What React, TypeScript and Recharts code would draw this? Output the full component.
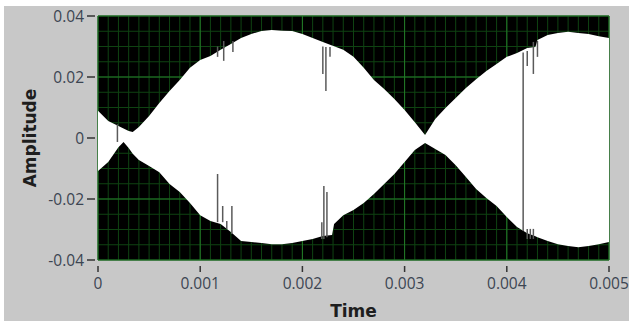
import { ComposedChart, Area, XAxis, YAxis, CartesianGrid, ReferenceLine } from "recharts"

// envelope of the sampled waveform (seconds / amplitude)
const time = [
  0, 0.0001, 0.0002, 0.00025, 0.0003, 0.00034, 0.0004, 0.0005, 0.0006, 0.0007,
  0.0008, 0.0009, 0.001, 0.0011, 0.0012, 0.0013, 0.0014, 0.0015, 0.0016, 0.0017,
  0.0018, 0.0019, 0.002, 0.0021, 0.0022, 0.00229, 0.00231, 0.0024, 0.0025, 0.0026,
  0.0027, 0.0028, 0.0029, 0.003, 0.0031, 0.0032, 0.0033, 0.0034, 0.0035, 0.0036,
  0.0037, 0.0038, 0.0039, 0.004, 0.0041, 0.0042, 0.00428, 0.0043, 0.0044, 0.0045,
  0.0046, 0.0047, 0.0048, 0.0049, 0.005,
]
const upper = [
  0.0089, 0.0056, 0.0039, 0.0031, 0.0023, 0.002, 0.0036, 0.0072, 0.0115, 0.0154,
  0.019, 0.023, 0.0256, 0.0269, 0.0289, 0.0308, 0.0328, 0.0341, 0.0351, 0.0354,
  0.0352, 0.0351, 0.0341, 0.0328, 0.0315, 0.0303, 0.0301, 0.0289, 0.0266, 0.023,
  0.019, 0.0161, 0.0128, 0.0092, 0.0052, 0.001, 0.0062, 0.0098, 0.0131, 0.0164,
  0.0193, 0.022, 0.0243, 0.0266, 0.0279, 0.0295, 0.0298, 0.0321, 0.0338, 0.0344,
  0.0348, 0.0344, 0.0341, 0.0334, 0.0328,
]
const lower = [
  -0.0108, -0.0079, -0.003, -0.0013, -0.0033, -0.0052, -0.0072, -0.0092, -0.0112, -0.0151,
  -0.0177, -0.0213, -0.0253, -0.0272, -0.0282, -0.0308, -0.0338, -0.0341, -0.0344, -0.0348,
  -0.0348, -0.0344, -0.0338, -0.0331, -0.0321, -0.0318, -0.0282, -0.0253, -0.0236, -0.0213,
  -0.0184, -0.0151, -0.0118, -0.0079, -0.0039, -0.0016, -0.0036, -0.0056, -0.0089, -0.0128,
  -0.0167, -0.0197, -0.0223, -0.0259, -0.0292, -0.0312, -0.0322, -0.0325, -0.0338, -0.0348,
  -0.0354, -0.0358, -0.0354, -0.0348, -0.0341,
]

// dropouts inside the envelope
const spikeTime = [
  0.00019, 0.00117, 0.00123, 0.00132, 0.0022, 0.00223, 0.00227, 0.00416, 0.0042, 0.00426,
  0.0043, 0.00117, 0.00122, 0.00126, 0.00131, 0.00219, 0.00221, 0.00224, 0.0042, 0.00423,
  0.00426,
]
const spikeHigh = [
  0.0045, 0.03, 0.0318, 0.0318, 0.03, 0.0298, 0.0298, 0.028, 0.0285, 0.0315,
  0.0318, -0.0118, -0.0223, -0.0272, -0.0223, -0.0276, -0.0157, -0.0177, -0.0298, -0.0298,
  -0.0298,
]
const spikeLow = [
  -0.0013, 0.0266, 0.0253, 0.0282, 0.021, 0.0154, 0.0266, -0.0305, 0.0236, 0.021,
  0.0266, -0.0276, -0.0276, -0.0298, -0.0315, -0.0331, -0.0331, -0.0325, -0.0331, -0.0331,
  -0.0331,
]

const xTicks = [0, 0.001, 0.002, 0.003, 0.004, 0.005]
const yTicks = [-0.04, -0.02, 0, 0.02, 0.04]

const X_DIVISIONS = 10
const Y_DIVISIONS = 4

function subdivide(ticks: number[], parts: number) {
  const out: number[] = []
  for (let i = 0; i < ticks.length - 1; i++) {
    const step = (ticks[i + 1] - ticks[i]) / parts
    for (let j = 0; j < parts; j++) out.push(ticks[i] + step * j)
  }
  out.push(ticks[ticks.length - 1])
  return out
}

const data = time.map((t, i) => ({ t, band: [lower[i], upper[i]] }))

const labelFont = { fontFamily: "'Open Sans', sans-serif", fontSize: 15.5, fill: "#3c4552" }
const titleFont = { fontFamily: "'DejaVu Sans', sans-serif", fontSize: 17, fontWeight: 700, fill: "#1e1e1e" }

const fmt = (v: number, digits: number) => (v === 0 ? "0" : v.toFixed(digits))

function XTick(props: any) {
  const { x, y, payload } = props
  return (
    <g>
      <line x1={x} x2={x} y1={y + 6} y2={y + 12} stroke="#333" strokeWidth={1.5} />
      <text x={x} y={y + 29} textAnchor="middle" {...labelFont}>
        {fmt(payload.value, 3)}
      </text>
    </g>
  )
}

function YTick(props: any) {
  const { x, y, payload } = props
  return (
    <g>
      <line x1={x - 11} x2={x - 3} y1={y} y2={y} stroke="#333" strokeWidth={1.5} />
      <text x={x - 14} y={y + 5.5} textAnchor="end" {...labelFont}>
        {fmt(payload.value, 2)}
      </text>
    </g>
  )
}

export default function App() {
  return (
    <div style={{ position: "absolute", left: 0, top: 0, width: 629, height: 321, background: "#fff" }}>
      <div style={{ position: "absolute", left: 4, top: 6, right: 0, bottom: 0, background: "#c8c8c8" }} />
      <div style={{ position: "absolute", left: 0, top: 0 }}>
        <ComposedChart width={629} height={321} data={data} margin={{ top: 16, right: 20, bottom: 31, left: 38 }}>
          <CartesianGrid
            fill="#000"
            fillOpacity={1}
            stroke="#0f4312"
            verticalValues={subdivide(xTicks, X_DIVISIONS)}
            horizontalValues={subdivide(yTicks, Y_DIVISIONS)}
          />
          <CartesianGrid stroke="#237a28" verticalValues={xTicks} horizontalValues={yTicks} />
          <XAxis
            dataKey="t"
            type="number"
            domain={[0, 0.005]}
            ticks={xTicks}
            interval={0}
            height={30}
            tickSize={0}
            tickMargin={0}
            axisLine={false}
            tickLine={false}
            tick={<XTick />}
            label={{
              content: ({ viewBox }: any) => (
                <text x={viewBox.x + viewBox.width / 2} y={viewBox.y + 57} textAnchor="middle" {...titleFont}>
                  Time
                </text>
              ),
            }}
          />
          <YAxis
            type="number"
            domain={[-0.04, 0.04]}
            ticks={yTicks}
            interval={0}
            width={60}
            tickSize={0}
            tickMargin={0}
            axisLine={false}
            tickLine={false}
            tick={<YTick />}
            label={{
              content: ({ viewBox }: any) => {
                const cx = viewBox.x - 8
                const cy = viewBox.y + viewBox.height / 2
                return (
                  <text
                    x={cx}
                    y={cy}
                    textAnchor="middle"
                    dominantBaseline="central"
                    transform={`rotate(-90 ${cx} ${cy})`}
                    {...titleFont}
                  >
                    Amplitude
                  </text>
                )
              },
            }}
          />
          <Area
            dataKey="band"
            type="linear"
            fill="#fff"
            fillOpacity={1}
            stroke="none"
            isAnimationActive={false}
          />
          {spikeTime.map((t, i) => (
            <ReferenceLine
              key={i}
              segment={[
                { x: t, y: spikeHigh[i] },
                { x: t, y: spikeLow[i] },
              ]}
              stroke="#5a5a5a"
              strokeWidth={1.5}
            />
          ))}
        </ComposedChart>
      </div>
    </div>
  )
}
